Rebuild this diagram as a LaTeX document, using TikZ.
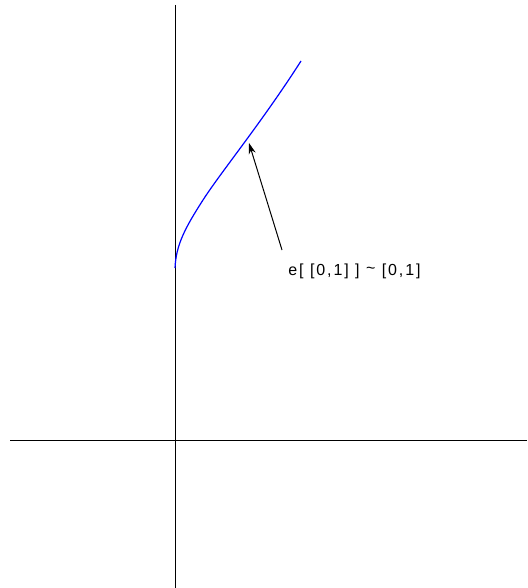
\documentclass[tikz,border=0pt]{standalone}
\usepackage{fontspec}
\setmainfont{Liberation Sans}
\usetikzlibrary{arrows.meta}
\begin{document}
\begin{tikzpicture}[x=1pt,y=-1pt,
  axis/.style={black,line width=1pt},
  curve/.style={blue,line width=1.2pt},
  pointer/.style={black,line width=1pt,-{Stealth[length=11pt,width=7pt]}},
  lbl/.style={font=\fontsize{16}{18}\selectfont\addfontfeature{LetterSpace=12},inner sep=0pt}]
\useasboundingbox (0,0) rectangle (527,588);
\coordinate (vtop) at (175,5);
\coordinate (vbot) at (175,588);
\coordinate (hl) at (10,440);
\coordinate (hr) at (527,440);
\draw[axis] (vtop) -- (vbot);
\draw[axis] (hl) -- (hr);
\draw[curve] (175,268) .. controls (176,245) and (185,228) .. (203,200)
  .. controls (221,172) and (262,122) .. (301,61);
\node[lbl] (lab) at (354.5,271) {e[ [0,1] ] \raisebox{0.15ex}{\textasciitilde} [0,1]};
\coordinate (tail) at (282,250);
\coordinate (tip) at (249,143);
\draw[pointer] (tail) -- (tip);
\end{tikzpicture}
\end{document}
